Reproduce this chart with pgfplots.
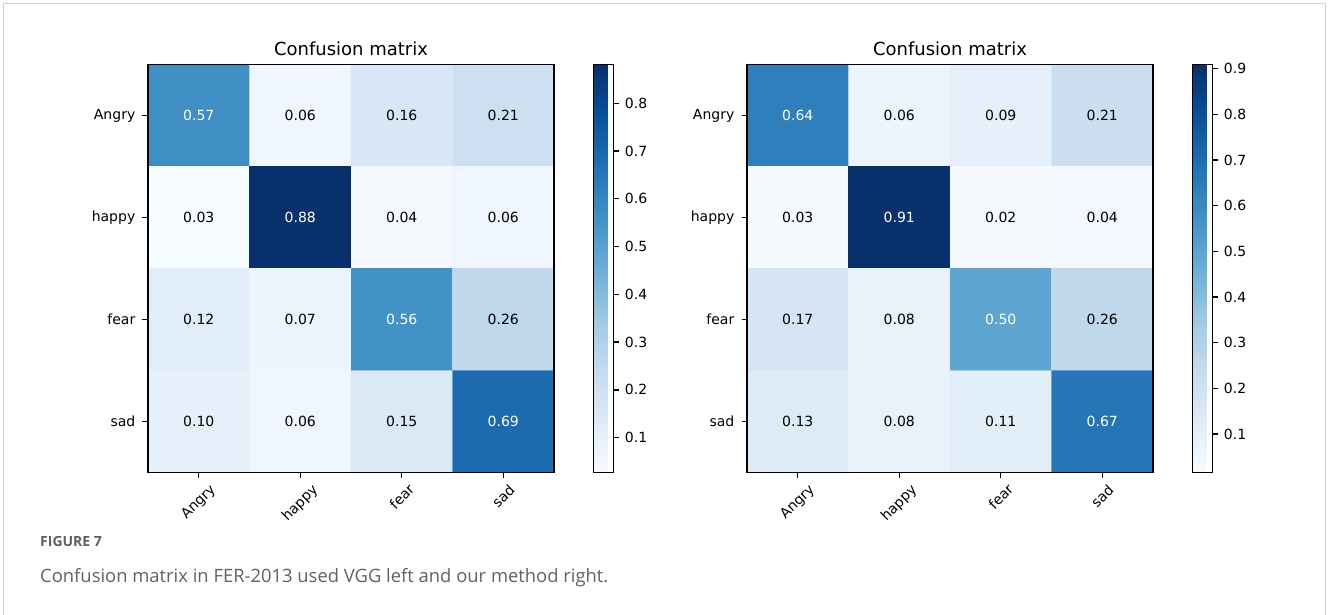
\documentclass[border=0pt]{standalone}
\usepackage{pgfplots}
\pgfplotsset{compat=1.18}
\usepackage{pgfplotstable}
\usepackage{graphicx}
\usepackage{fontspec}
\setmainfont{DejaVu Sans}
\newfontfamily\capfont{Open Sans}
\definecolor{capgray}{HTML}{626262}
\definecolor{figgray}{HTML}{5F5F5F}
\definecolor{framegray}{HTML}{D2D2D2}

% left: VGG   (w = 1: value printed in white)
\pgfplotstableread{
x y c w
0 0 0.57 1
1 0 0.06 0
2 0 0.16 0
3 0 0.21 0
0 1 0.03 0
1 1 0.88 1
2 1 0.04 0
3 1 0.06 0
0 2 0.12 0
1 2 0.07 0
2 2 0.56 1
3 2 0.26 0
0 3 0.10 0
1 3 0.06 0
2 3 0.15 0
3 3 0.69 1
}\leftdata
% right: our method
\pgfplotstableread{
x y c w
0 0 0.64 1
1 0 0.06 0
2 0 0.09 0
3 0 0.21 0
0 1 0.03 0
1 1 0.91 1
2 1 0.02 0
3 1 0.04 0
0 2 0.17 0
1 2 0.08 0
2 2 0.50 1
3 2 0.26 0
0 3 0.13 0
1 3 0.08 0
2 3 0.11 0
3 3 0.67 1
}\rightdata

\pgfplotsset{
  colormap={mplblues}{rgb255=(247,251,255) rgb255=(222,235,247) rgb255=(198,219,239) rgb255=(158,202,225) rgb255=(107,174,214) rgb255=(66,146,198) rgb255=(33,113,181) rgb255=(8,81,156) rgb255=(8,48,107)},
  % data layer: cells, values, colorbar
  cm/.style={
    scale only axis, width=406pt, height=408pt,
    anchor=south west,
    xmin=-0.5, xmax=3.5, ymin=-0.5, ymax=3.5, y dir=reverse,
    xtick=\empty, ytick=\empty, axis line style={draw=none},
    colormap name=mplblues,
    colorbar,
    colorbar style={
      at={(parent axis.north east)}, anchor=north west, xshift=30.7pt,
      scale only axis, width=20pt, height=408pt,
      tick align=outside, ytick pos=right, yticklabel pos=right, major tick length=5.5pt,
      every tick/.style={black, line width=1.3pt},
      axis line style={draw=black, line width=1.3pt},
      yticklabel style={font=\fontsize{14}{16}\selectfont, inner sep=0pt, xshift=6pt},
    },
  },
  % frame layer: box, ticks, tick labels, title
  frame/.style={
    scale only axis, width=406pt, height=408pt,
    anchor=south west,
    xmin=-0.5, xmax=3.5, ymin=-0.5, ymax=3.5,
    xtick={0,1,2,3}, ytick={0,1,2,3},
    xticklabels={\rotatebox{45}{Angry},\rotatebox{45}{happy},\rotatebox{45}{fear},\rotatebox{45}{sad}},
    yticklabels={sad,fear,happy,Angry},
    tick align=outside, xtick pos=left, ytick pos=left,
    major tick length=5.5pt, tickwidth=5.5pt,
    every tick/.style={black, line width=1.3pt},
    axis line style={draw=black, line width=1.3pt},
    ticklabel style={font=\fontsize{14}{16}\selectfont},
    xticklabel style={anchor=north, inner sep=0pt, yshift=-5pt},
    yticklabel style={inner sep=0pt, xshift=-7pt},
    title style={font=\fontsize{18}{20}\selectfont, anchor=base, at={(0.5,1)}, yshift=3pt, inner sep=0pt},
    title={Confusion matrix},
  },
  lab/.style={
    draw=none, mark=none, point meta=explicit symbolic,
    nodes near coords, nodes near coords align=center,
    nodes near coords style={font=\fontsize{14}{16}\selectfont, anchor=center, inner sep=0pt, text=#1},
  },
}

\begin{document}
\begin{tikzpicture}
\useasboundingbox (0,0) rectangle (1328pt,614pt);
\draw[framegray, line width=1pt] (3pt,-2pt) -- (3pt,610pt) -- (1325pt,610pt) -- (1325pt,-2pt);

\begin{axis}[cm, at={(148pt,141.5pt)},
  point meta min=0.027, point meta max=0.881,
  colorbar style={ytick={0.1,0.2,0.3,0.4,0.5,0.6,0.7,0.8},
    yticklabels={0.1,0.2,0.3,0.4,0.5,0.6,0.7,0.8}}]
  \addplot[matrix plot*, mesh/cols=4, point meta=explicit] table[x=x, y=y, meta=c] {\leftdata};
  \addplot[lab=black, restrict expr to domain={\thisrow{w}}{-0.5:0.5}] table[x=x, y=y, meta=c] {\leftdata};
  \addplot[lab=white, restrict expr to domain={\thisrow{w}}{0.5:1.5}] table[x=x, y=y, meta=c] {\leftdata};
\end{axis}
\begin{axis}[frame, at={(148pt,141.5pt)}]
\end{axis}

\begin{axis}[cm, at={(747pt,141.5pt)},
  point meta min=0.016, point meta max=0.909,
  colorbar style={ytick={0.1,0.2,0.3,0.4,0.5,0.6,0.7,0.8,0.9},
    yticklabels={0.1,0.2,0.3,0.4,0.5,0.6,0.7,0.8,0.9}}]
  \addplot[matrix plot*, mesh/cols=4, point meta=explicit] table[x=x, y=y, meta=c] {\rightdata};
  \addplot[lab=black, restrict expr to domain={\thisrow{w}}{-0.5:0.5}] table[x=x, y=y, meta=c] {\rightdata};
  \addplot[lab=white, restrict expr to domain={\thisrow{w}}{0.5:1.5}] table[x=x, y=y, meta=c] {\rightdata};
\end{axis}
\begin{axis}[frame, at={(747pt,141.5pt)}]
\end{axis}

\node[anchor=base west, inner sep=0pt, text=figgray, font=\capfont\bfseries\fontsize{14}{16}\selectfont] at (40pt,68pt) {FIGURE 7};
\node[anchor=base west, inner sep=0pt, text=capgray, font=\capfont\fontsize{18.4}{21}\selectfont] at (40pt,32pt) {Confusion matrix in FER-2013 used VGG left and our method right.};
\end{tikzpicture}
\end{document}
